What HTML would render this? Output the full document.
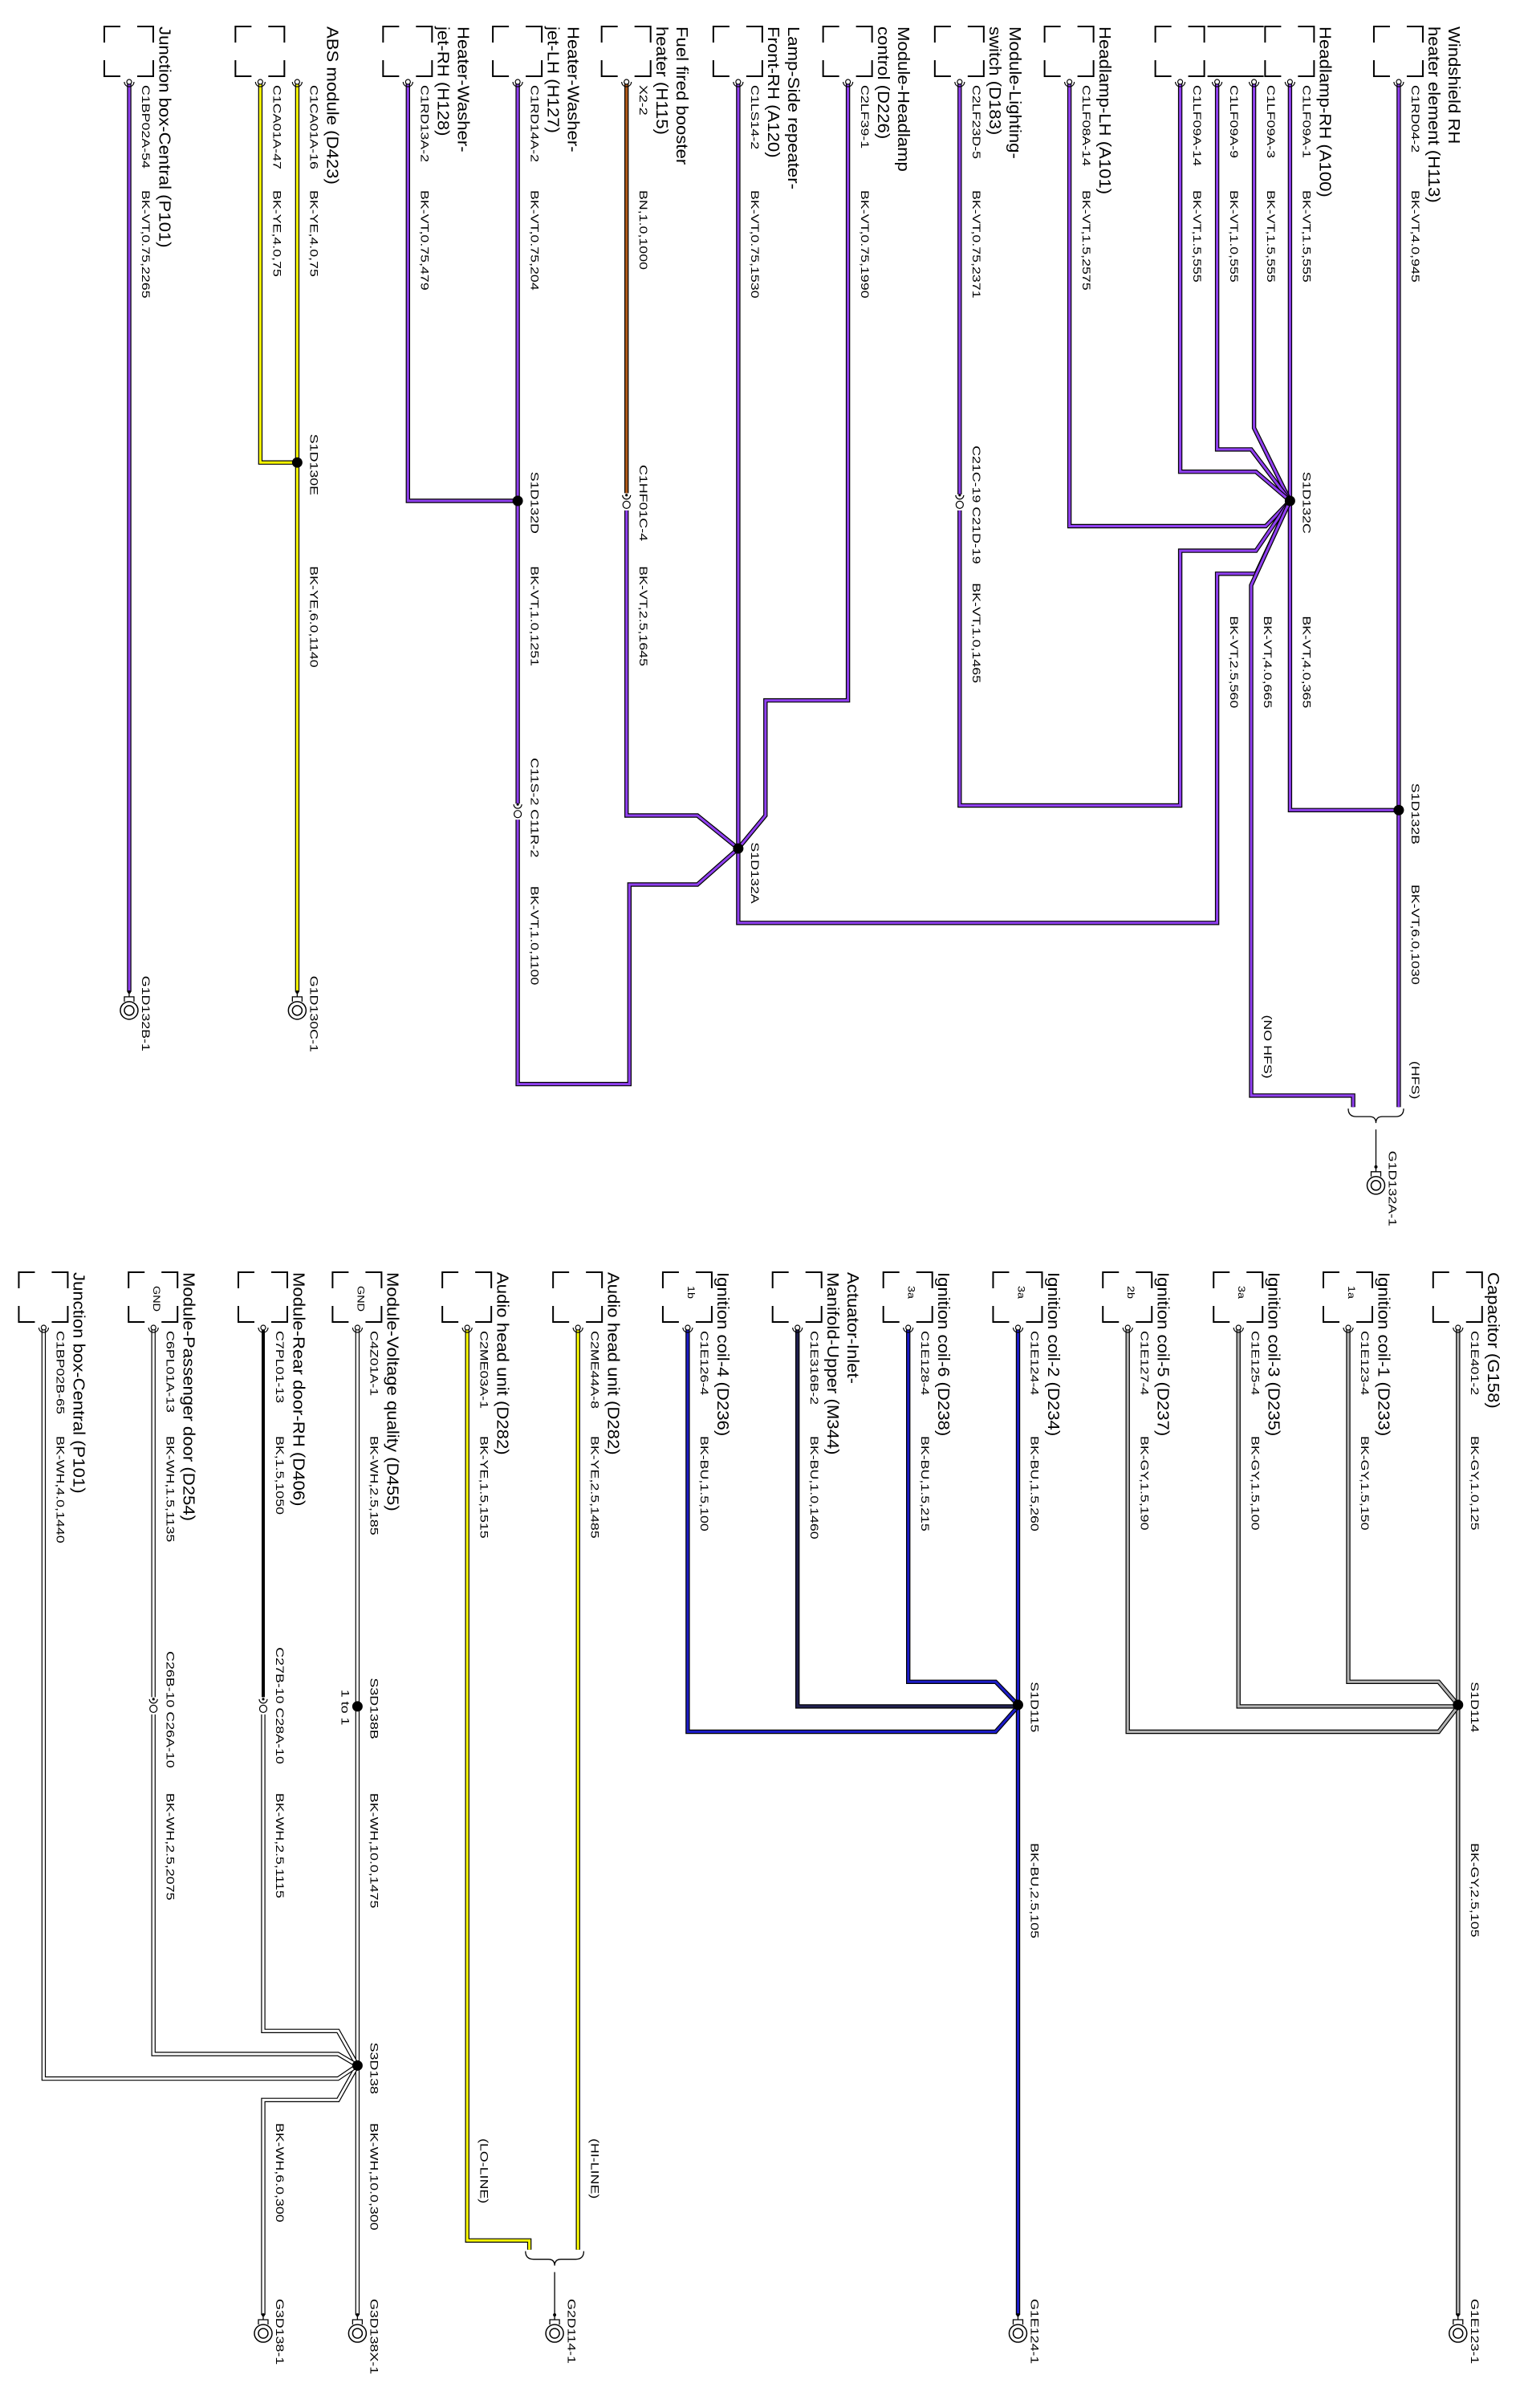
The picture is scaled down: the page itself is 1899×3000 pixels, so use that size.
<!DOCTYPE html>
<html><head><meta charset="utf-8"><style>
html,body{margin:0;padding:0;background:#fff;}
svg{display:block}
text{font-family:"Liberation Sans",Arial,sans-serif;fill:#000}
</style></head><body>
<svg id="s" xmlns="http://www.w3.org/2000/svg" width="1899" height="3000" viewBox="0 0 1899 3000"></svg>
<script>
const X=x=>1.2104*x+3.6;
const YT=y=>0.956*y+2.6;
const YB=y=>1502.6+0.956*y;
let out='';
const COL={P:'#9040f0',Y:'#ffff00',N:'#b05a1a',B:'#1c1cc8',K:'#000',G:'#b4b4b4',W:'#fff',D:'#202050'};
function wire(pts,c,half){
  const Y=half?YB:YT;let d='';
  for(let i=0;i<pts.length;i+=2)d+=(i?'L':'M')+X(pts[i]).toFixed(1)+','+Y(pts[i+1]).toFixed(1);
  if(c==='K'){out+=`<path d="${d}" fill="none" stroke="#000" stroke-width="4" stroke-linejoin="round"/>`;return;}
  out+=`<path d="${d}" fill="none" stroke="#000" stroke-width="5.4" stroke-linejoin="miter"/>`;
  out+=`<path d="${d}" fill="none" stroke="${COL[c]}" stroke-width="3" stroke-linejoin="miter"/>`;
}
function txt(cx,y,s,fs,sx){
  out+=`<text transform="translate(${cx.toFixed(1)},${y.toFixed(1)}) rotate(90) scale(${sx},1)" dominant-baseline="central" font-size="${fs}">${s}</text>`;
}
function small(cx,y,s){txt(cx,y,s,13.5,1.32);}
function title(cx,y,s){txt(cx,y,s,20.5,1.08);}
function bracket(px,base){
  const x0=px-31,x1=px+30,y0=33+base,y1=95+base,c=20;
  out+=`<path d="M${x0+c},${y0}H${x0}V${y0+c} M${x0},${y1-c}V${y1}H${x0+c} M${x1-c},${y0}H${x1}V${y0+c} M${x1},${y1-c}V${y1}H${x1-c}" fill="none" stroke="#000" stroke-width="2"/>`;
}
function pin(px,py){
  out+=`<circle cx="${px}" cy="${py-3}" r="3" fill="#fff" stroke="#000" stroke-width="1.2"/>`;
  out+=`<path d="M${px-6},${py-3} A6,6 0 0 0 ${px+6},${py-3}" fill="none" stroke="#000" stroke-width="1.2"/>`;
}
function comp(pz,lines,conn,w,half,br,inner){
  const px=X(pz),base=half?1552:0;
  if(br!==false)bracket(px,base);
  const n=lines.length;
  lines.forEach((l,i)=>title(px+44+25*(n-1-i),33+base,l));
  small(px+20,106+base,conn);
  small(px+20,237+base,w);
  pin(px,105+base);
  if(inner)txt(px+4,50+base,inner,12,1.2);
}
function lab(wz,yz,s,half,dx){const Y=half?YB:YT;small(X(wz)+(dx||20),Y(yz),s);}
function dot(xz,yz,half){const Y=half?YB:YT;out+=`<circle cx="${X(xz)}" cy="${Y(yz)}" r="6.5" fill="#000"/>`;}
function conn(xz,yz,half){const Y=half?YB:YT;const x=X(xz),y=Y(yz);
  out+=`<rect x="${x-5}" y="${y-10}" width="10" height="20" fill="#fff"/>`;
  out+=`<path d="M${x-5},${y-9} A5,5 0 0 0 ${x+5},${y-9}" fill="none" stroke="#000" stroke-width="1.2"/><circle cx="${x}" cy="${y+3}" r="4.5" fill="#fff" stroke="#000" stroke-width="1.2"/><circle cx="${x}" cy="${y-9}" r="1.6" fill="#000"/>`;}
function gnd(xz,yz,half,name){const Y=half?YB:YT;const x=X(xz),y=Y(yz);
  out+=`<circle cx="${x}" cy="${y}" r="2" fill="#000"/><path d="M${x},${y}V${y+6} M${x-6},${y+12}V${y+6}H${x+6}V${y+12}" fill="none" stroke="#000" stroke-width="1.3"/>`;
  out+=`<circle cx="${x}" cy="${y+23}" r="11" fill="#fff" stroke="#000" stroke-width="1.5"/><circle cx="${x}" cy="${y+23}" r="6" fill="none" stroke="#000" stroke-width="1.5"/>`;
  small(x+20,y-20,name);}
function brace(x0z,x1z,yz,half,endz){const Y=half?YB:YT;const a=X(x0z),b=X(x1z),m=(a+b)/2,y=Y(yz);
  out+=`<path d="M${a},${y} Q${a},${y+10} ${a+10},${y+10} H${m-8} Q${m},${y+10} ${m},${y+18} Q${m},${y+10} ${m+8},${y+10} H${b-10} Q${b},${y+10} ${b},${y}" fill="none" stroke="#000" stroke-width="1.3"/>`;
  out+=`<path d="M${m},${y+26}V${Y(endz)}" stroke="#000" stroke-width="1.3"/>`;
  return m;}

/* ---------- TOP ---------- */
wire([1437,105,1437,1440],'P');
wire([1437,1053,1325,1053,1325,105],'P');
wire([1288,105,1288,555,1325,650],'P');
wire([1250,105,1250,583,1285,583,1325,650],'P');
wire([1212,105,1212,612,1290,612,1325,650],'P');
wire([1098,105,1098,683,1300,683,1325,650],'P');
wire([985,660,985,1047,1212,1047,1212,715,1290,715,1325,650],'P');
wire([985,105,985,645],'P');
wire([757,105,757,1200,1250,1200,1250,745,1290,745,1325,650],'P');
wire([1325,650,1285,760,1285,1425,1390,1425,1390,1440],'P');
wire([870,105,870,910,785,910,785,1060,757,1103],'P');
wire([642,105,642,640],'N');
wire([642,660,642,1060,715,1060,757,1103],'P');
wire([757,1103,715,1150,645,1150,645,1410,530,1410,530,1065],'P');
wire([530,105,530,1045],'P');
wire([417,105,417,650,530,650],'P');
wire([265,105,265,600,303,600],'Y');
wire([303,105,303,1290],'Y');
wire([130,105,130,1290],'P');
[[1437,1053],[1325,650],[757,1103],[530,650],[303,600]].forEach(p=>dot(p[0],p[1]));
conn(985,652);conn(642,652);conn(530,1055);

comp(1437,['Windshield RH','heater element (H113)'],'C1RD04-2','BK-VT,4.0,945');
comp(1325,['Headlamp-RH (A100)'],'C1LF09A-1','BK-VT,1.5,555');
comp(1288,[],'C1LF09A-3','BK-VT,1.5,555',false,false);
comp(1250,[],'C1LF09A-9','BK-VT,1.0,555',false,false);
comp(1212,[],'C1LF09A-14','BK-VT,1.5,555');
comp(1098,['Headlamp-LH (A101)'],'C1LF08A-14','BK-VT,1.5,2575');
comp(985,['Module-Lighting-','switch (D183)'],'C2LF23D-5','BK-VT,0.75,2371');
comp(870,['Module-Headlamp','control (D226)'],'C2LF39-1','BK-VT,0.75,1990');
comp(757,['Lamp-Side repeater-','Front-RH (A120)'],'C1LS14-2','BK-VT,0.75,1530');
comp(642,['Fuel fired booster','heater (H115)'],'X2-2','BN,1.0,1000');
comp(530,['Heater-Washer-','jet-LH (H127)'],'C1RD14A-2','BK-VT,0.75,204');
comp(417,['Heater-Washer-','jet-RH (H128)'],'C1RD13A-2','BK-VT,0.75,479');
comp(303,['ABS module (D423)'],'C1CA01A-16','BK-YE,4.0,75',false,false);
comp(265,[],'C1CA01A-47','BK-YE,4.0,75');
comp(130,['Junction box-Central (P101)'],'C1BP02A-54','BK-VT,0.75,2265');
out+=`<path d="M${X(1250)-12},33H${X(1288)+12}" stroke="#000" stroke-width="2"/><path d="M${X(1250)-12},95H${X(1288)+12}" stroke="#000" stroke-width="2"/>`;

lab(1325,612,'S1D132C');lab(1325,800,'BK-VT,4.0,365');
lab(1437,1018,'S1D132B');lab(1437,1150,'BK-VT,6.0,1030');lab(1437,1380,'(HFS)');
lab(1285,800,'BK-VT,4.0,665');lab(1285,1320,'(NO HFS)');
lab(1250,800,'BK-VT,2.5,560');
lab(985,578,'C21C-19 C21D-19');lab(985,757,'BK-VT,1.0,1465');
lab(642,603,'C1HF01C-4');lab(642,735,'BK-VT,2.5,1645');
lab(530,612,'S1D132D');lab(530,735,'BK-VT,1.0,1251');lab(530,985,'C11S-2 C11R-2');lab(530,1152,'BK-VT,1.0,1100');
lab(757,1095,'S1D132A');
lab(303,563,'S1D130E');lab(303,735,'BK-YE,6.0,1140');
gnd(303,1290,false,'G1D130C-1');gnd(130,1290,false,'G1D132B-1');
brace(1385,1442,1442,false,1518);
gnd(1413.5,1518,false,'G1D132A-1');

/* ---------- BOTTOM ---------- */
const H=true;
wire([1498,158,1498,1445],'G',H);
wire([1385,158,1385,620,1478,620,1498,650],'G',H);
wire([1272,158,1272,652,1498,652],'G',H);
wire([1158,158,1158,685,1478,685,1498,652],'G',H);
wire([1045,158,1045,1445],'B',H);
wire([932,158,932,620,1022,620,1045,650],'B',H);
wire([818,158,818,652,1045,652],'D',H);
wire([705,158,705,685,1022,685,1045,652],'B',H);
wire([592,158,592,1360],'Y',H);
wire([478,158,478,1348,542,1348,542,1360],'Y',H);
wire([365,158,365,1445],'W',H);
wire([268,158,268,640],'K',H);
wire([268,662,268,1075,345,1075,365,1120],'W',H);
wire([365,1120,345,1165,268,1165,268,1445],'W',H);
wire([155,158,155,640],'W',H);
wire([155,662,155,1105,345,1105,365,1120],'W',H);
wire([42,158,42,1137,345,1137,365,1120],'W',H);
[[1498,650],[1045,650],[365,652],[365,1120]].forEach(p=>dot(p[0],p[1],H));
conn(268,652,H);conn(155,652,H);

comp(1498,['Capacitor (G158)'],'C1E401-2','BK-GY,1.0,125',H);
comp(1385,['Ignition coil-1 (D233)'],'C1E123-4','BK-GY,1.5,150',H,true,'1a');
comp(1272,['Ignition coil-3 (D235)'],'C1E125-4','BK-GY,1.5,100',H,true,'3a');
comp(1158,['Ignition coil-5 (D237)'],'C1E127-4','BK-GY,1.5,190',H,true,'2b');
comp(1045,['Ignition coil-2 (D234)'],'C1E124-4','BK-BU,1.5,260',H,true,'3a');
comp(932,['Ignition coil-6 (D238)'],'C1E128-4','BK-BU,1.5,215',H,true,'3a');
comp(818,['Actuator-Inlet-','Manifold-Upper (M344)'],'C1E316B-2','BK-BU,1.0,1460',H);
comp(705,['Ignition coil-4 (D236)'],'C1E126-4','BK-BU,1.5,100',H,true,'1b');
comp(592,['Audio head unit (D282)'],'C2ME44A-8','BK-YE,2.5,1485',H);
comp(478,['Audio head unit (D282)'],'C2ME03A-1','BK-YE,1.5,1515',H);
comp(365,['Module-Voltage quality (D455)'],'C4Z01A-1','BK-WH,2.5,185',H,true,'GND');
comp(268,['Module-Rear door-RH (D406)'],'C7PL01-13','BK,1.5,1050',H);
comp(155,['Module-Passenger door (D254)'],'C6PL01A-13','BK-WH,1.5,1135',H,true,'GND');
comp(42,['Junction box-Central (P101)'],'C1BP02B-65','BK-WH,4.0,1440',H);

lab(1498,620,'S1D114',H);lab(1498,830,'BK-GY,2.5,105',H);
lab(1045,620,'S1D115',H);lab(1045,830,'BK-BU,2.5,105',H);
lab(592,1215,'(HI-LINE)',H);lab(478,1215,'(LO-LINE)',H);
lab(365,615,'S3D138B',H);lab(365,630,'1 to 1',H,-16);lab(365,765,'BK-WH,10.0,1475',H);
lab(365,1090,'S3D138',H);lab(365,1195,'BK-WH,10.0,300',H);
lab(268,575,'C27B-10 C28A-10',H);lab(268,765,'BK-WH,2.5,1115',H);lab(268,1195,'BK-WH,6.0,300',H);
lab(155,580,'C26B-10 C26A-10',H);lab(155,765,'BK-WH,2.5,2075',H);
gnd(1498,1445,H,'G1E123-1');gnd(1045,1445,H,'G1E124-1');
gnd(365,1445,H,'G3D138X-1');gnd(268,1445,H,'G3D138-1');
brace(538,598,1362,H,1445);
gnd(568,1445,H,'G2D114-1');

document.getElementById('s').innerHTML=out;
</script>
</body></html>
